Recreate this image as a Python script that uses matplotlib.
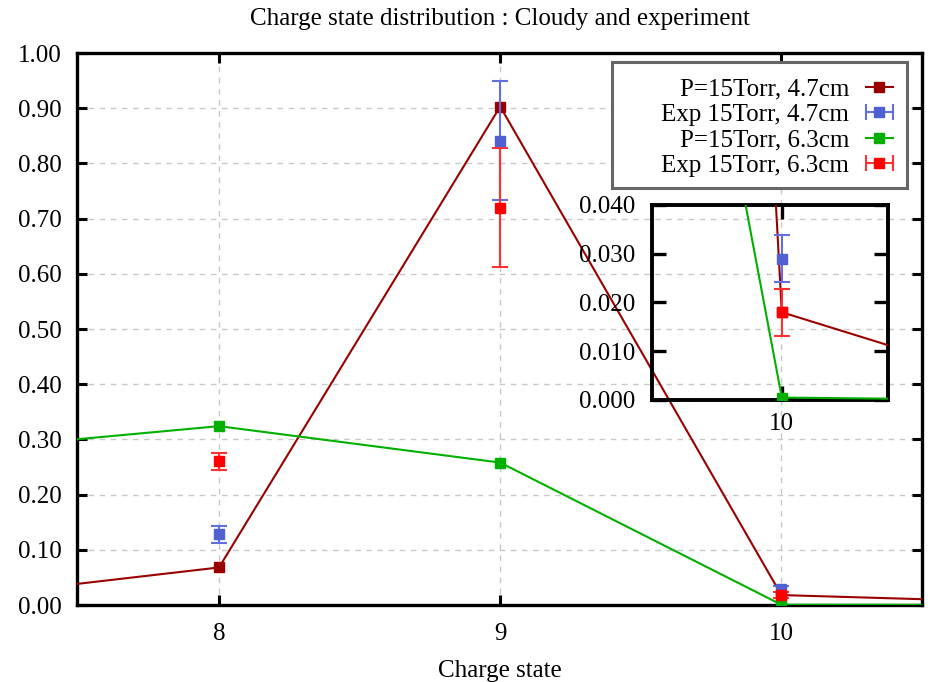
import matplotlib
matplotlib.use('Agg')
import matplotlib.pyplot as plt
from matplotlib.lines import Line2D
from matplotlib.patches import Rectangle
from matplotlib.legend_handler import HandlerLine2D, HandlerTuple

plt.rcParams['font.family'] = ['Liberation Serif', 'DejaVu Serif']
FS = 18
plt.rcParams['font.size'] = FS

# ---- data ----
charge = [7, 8, 9, 10, 11]
cloudy_47 = [0.009, 0.068, 0.903, 0.018, 0.003]
cloudy_63 = [0.277, 0.324, 0.258, 0.0005, 0.0]
exp_charge = [8, 9, 10]
exp_47 = [0.128, 0.841, 0.029]
exp_47_err = [0.016, 0.108, 0.0048]
exp_63 = [0.260, 0.720, 0.018]
exp_63_err = [0.016, 0.108, 0.0048]
labels = ['P=15Torr, 4.7cm', 'Exp 15Torr, 4.7cm', 'P=15Torr, 6.3cm', 'Exp 15Torr, 6.3cm']
yticks_main = [0.0, 0.1, 0.2, 0.3, 0.4, 0.5, 0.6, 0.7, 0.8, 0.9, 1.0]
xticks_main = [8, 9, 10]
yticks_in = [0.0, 0.01, 0.02, 0.03, 0.04]
xticks_in = [10]

c_dkred = '#990000'
c_blue = '#5060d0'
c_blue_e = '#6070e0'
c_green = '#00b000'
c_red = '#ff0000'
c_red_e = '#ff3030'

W, H = 930, 682
fig = plt.figure(figsize=(W / 100, H / 100), dpi=100)
ax = fig.add_axes([77 / W, 1 - 605 / H, 845 / W, 552 / H])


def draw(a, ms=7):
    a.plot(charge, cloudy_47, color=c_dkred, marker='s', ms=ms, lw=1.5, zorder=3)
    a.errorbar(exp_charge, exp_47, yerr=exp_47_err, color=c_blue, marker='s', ms=ms,
               ls='none', elinewidth=1.5, capsize=5.8, capthick=1.5, ecolor=c_blue_e, zorder=4)
    a.plot(charge, cloudy_63, color=c_green, marker='s', ms=ms, lw=1.5, zorder=3)
    a.errorbar(exp_charge, exp_63, yerr=exp_63_err, color=c_red, marker='s', ms=ms,
               ls='none', elinewidth=1.5, capsize=5.8, capthick=1.5, ecolor=c_red_e, zorder=4)


draw(ax)
ax.set_xlim(7.495, 10.5)
ax.set_ylim(0, 1.0)
ax.set_xticks(xticks_main)
ax.set_xticklabels([str(v) for v in xticks_main])
ax.set_yticks(yticks_main)
ax.set_yticklabels(['%.2f' % v for v in yticks_main])
ax.set_axisbelow(True)
ax.grid(True, ls=(0, (4, 4)), color='#c8c8c8', lw=1)
ax.tick_params(direction='in', length=7, width=2.2, top=True, right=True)
ax.tick_params(axis='x', pad=13)
ax.tick_params(axis='y', pad=11)
for s in ax.spines.values():
    s.set_linewidth(2.4)
ax.set_title('Charge state distribution : Cloudy and experiment', pad=20, fontsize=FS)
ax.set_xlabel('Charge state', labelpad=11)


def ax_x(px):
    return (px - 77) / 845


def ax_y(py):
    return (605 - py) / 552


# legend frame (drawn separately so it can be wider than its contents)
frame = Rectangle((ax_x(612), ax_y(188)), ax_x(907) - ax_x(612), ax_y(62) - ax_y(188),
                  transform=ax.transAxes, facecolor='white', edgecolor='#666666',
                  lw=2.2, zorder=6)
ax.add_patch(frame)

# legend handles
h1 = Line2D([], [], color=c_dkred, marker='s', ms=7, lw=1.5)
cap2 = Line2D([], [], color=c_blue_e, marker='|', ms=11, mew=1.5, lw=1.5)
m2 = Line2D([], [], color=c_blue, marker='s', ms=7, ls='none')
h3 = Line2D([], [], color=c_green, marker='s', ms=7, lw=1.5)
cap4 = Line2D([], [], color=c_red_e, marker='|', ms=11, mew=1.5, lw=1.5)
m4 = Line2D([], [], color=c_red, marker='s', ms=7, ls='none')

leg = ax.legend([h1, (cap2, m2), h3, (cap4, m4)], labels,
                handler_map={cap2: HandlerLine2D(numpoints=2, marker_pad=0),
                             cap4: HandlerLine2D(numpoints=2, marker_pad=0),
                             tuple: HandlerTuple(ndivide=1)},
                loc='upper right', bbox_to_anchor=(ax_x(893), ax_y(78)),
                markerfirst=False, frameon=False,
                borderaxespad=0, borderpad=0, labelspacing=0.12, handlelength=1.1,
                handletextpad=0.65, fontsize=FS)
leg.set_zorder(7)

# inset
axin = fig.add_axes([652 / W, 1 - 400 / H, 236 / W, 195 / H])
axin.set_facecolor('none')
draw(axin, ms=7)
axin.set_xlim(9.45, 10.45)
axin.set_ylim(0, 0.04)
axin.set_xticks(xticks_in)
axin.set_xticklabels([str(v) for v in xticks_in])
axin.set_yticks(yticks_in)
axin.set_yticklabels(['%.3f' % v for v in yticks_in])
axin.tick_params(direction='in', length=10, width=2.4, top=True, right=True, pad=9)
axin.tick_params(axis='y', pad=12)
for s in axin.spines.values():
    s.set_linewidth(2.8)

fig.savefig('out.png', dpi=100)
